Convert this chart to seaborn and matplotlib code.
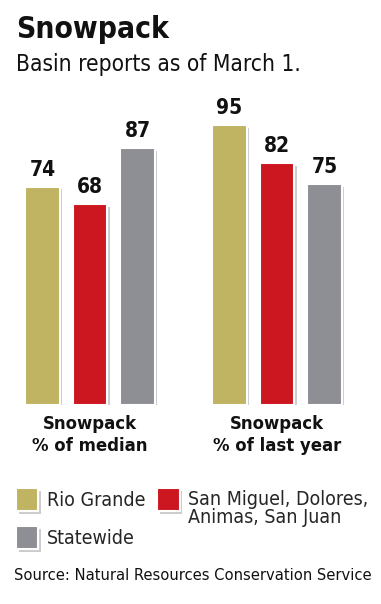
import matplotlib
matplotlib.use("Agg")
import matplotlib.pyplot as plt
import matplotlib.patheffects as pe
import matplotlib.transforms as mtransforms
import pandas as pd
import seaborn as sns

measures = ["Snowpack\n% of median", "Snowpack\n% of last year"]
regions = ["Rio Grande", "San Miguel, Dolores,\nAnimas, San Juan", "Statewide"]
rio_grande = [74, 95]
san_miguel = [68, 82]
statewide = [87, 75]
colors = ["#c0b462", "#cc1620", "#8e8f94"]

df = pd.DataFrame({
    "measure": measures * 3,
    "region": [r for r in regions for _ in measures],
    "value": rio_grande + san_miguel + statewide,
})

sns.set_theme(style="white")
plt.rcParams["font.family"] = ["Liberation Sans Narrow", "DejaVu Sans"]
plt.rcParams["font.stretch"] = "condensed"

fig = plt.figure(figsize=(3.81, 6.04), dpi=100)
ax = fig.add_axes([0, 0.3295, 1, 0.4884])

sns.barplot(data=df, x="measure", y="value", hue="region",
            order=measures, hue_order=regions, palette=colors,
            width=0.762, gap=0.28, edgecolor="white", linewidth=1.5,
            saturation=1, ax=ax)

shadow = [pe.SimplePatchShadow(offset=(2, -2), shadow_rgbFace="black", alpha=0.2),
          pe.Normal()]
for p in ax.patches:
    p.set_path_effects(shadow)

for c in ax.containers:
    ax.bar_label(c, fmt="%d", padding=5, fontsize=15, fontweight="bold", color="#111111")

ax.set_xlim(-0.481, 1.556)
ax.set_ylim(0, 100)
ax.set_xlabel("")
ax.set_ylabel("")
ax.set_yticks([])
ax.tick_params(axis="x", length=0, pad=7)
for lab in ax.get_xticklabels():
    lab.set_fontsize(13.2)
    lab.set_fontweight("bold")
    lab.set_color("#111111")
    lab.set_linespacing(1.3)
sns.despine(ax=ax, left=True, bottom=True)

# legend, two columns
handles, labels = ax.get_legend_handles_labels()
ax.get_legend().remove()
order = [0, 2, 1]
leg = fig.legend([handles[i] for i in order], [labels[i] for i in order],
                 ncol=2, loc="upper left", bbox_to_anchor=(16 / 381, 1 - 480 / 604),
                 frameon=False, fontsize=14, handlelength=1.15, handleheight=1.45,
                 handletextpad=0.45, columnspacing=0.6, labelspacing=0.75,
                 borderpad=0, borderaxespad=0)
for h in leg.legend_handles:
    h.set_path_effects(shadow)
# two-line entry: first line level with the square, as in the original
t = leg.get_texts()[2]
t.set_linespacing(0.95)
t.set_transform(t.get_transform() + mtransforms.ScaledTranslation(0, -10 / 100, fig.dpi_scale_trans))

fig.text(16 / 381, 1 - 15 / 604, "Snowpack", fontsize=21.5, fontweight="bold",
         va="top", ha="left", color="#111111")
fig.text(16 / 381, 1 - 53 / 604, "Basin reports as of March 1.", fontsize=16.3,
         va="top", ha="left", color="#111111")
fig.text(14 / 381, 1 - 568 / 604, "Source: Natural Resources Conservation Service",
         fontsize=11.75, va="top", ha="left", color="#111111")

fig.savefig("out.png", dpi=100)
